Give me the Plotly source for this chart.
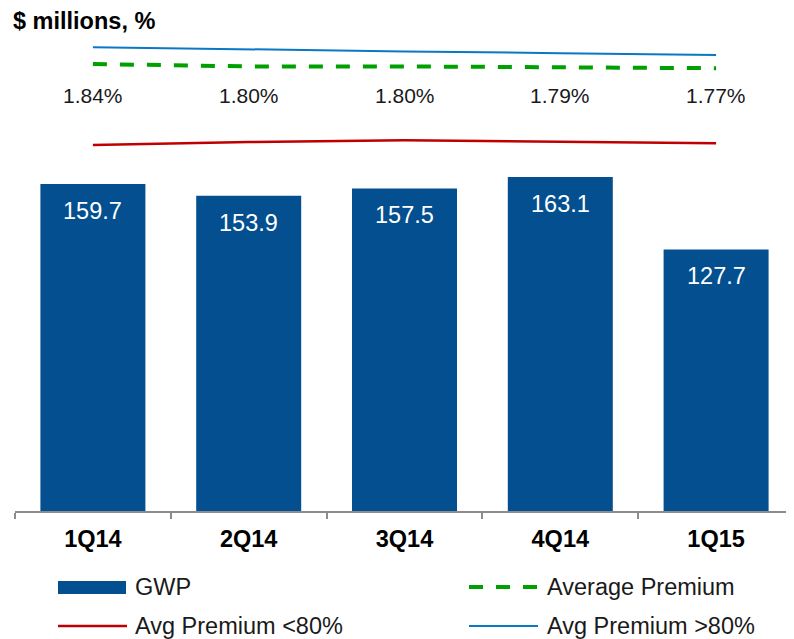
import plotly.graph_objects as go

quarters = ["1Q14", "2Q14", "3Q14", "4Q14", "1Q15"]
gwp = [159.7, 153.9, 157.5, 163.1, 127.7]
avg_premium = [1.84, 1.80, 1.80, 1.79, 1.77]
avg_premium_above80 = [2.12, 2.08, 2.05, 2.02, 1.99]
avg_premium_below80 = [0.49, 0.54, 0.57, 0.55, 0.52]

BAR = "#034F8F"
RED = "#C00000"
BLUE = "#0A78C5"
GREEN = "#00A000"
FONT = "Arial, Liberation Sans, sans-serif"

OFF = 8  # page body margin
W, H = 794 - OFF, 639 - OFF
AXIS_PX = 511  # axis y in screenshot pixels
L, R, T = 15 - OFF, 0, 40 - OFF
B = H - (AXIS_PX - OFF)
PW = W - L - R
PH = H - T - B


def px(x):
    """screenshot x -> paper"""
    return (x - 15) / PW


def py(y):
    """screenshot y -> paper"""
    return (AXIS_PX - y) / PH


fig = go.Figure()
fig.add_trace(go.Bar(x=quarters, y=gwp, marker=dict(color=BAR, line=dict(width=0)),
                     name="GWP", showlegend=False, hoverinfo="x+y"))
fig.add_trace(go.Scatter(x=quarters, y=avg_premium_above80, yaxis="y2", mode="lines",
                         line=dict(color=BLUE, width=2), name="Avg Premium >80%", showlegend=False))
fig.add_trace(go.Scatter(x=quarters, y=avg_premium, yaxis="y2", mode="lines",
                         line=dict(color=GREEN, width=4, dash="14px,13px"), name="Average Premium",
                         showlegend=False))
fig.add_trace(go.Scatter(x=quarters, y=avg_premium_below80, yaxis="y2", mode="lines",
                         line=dict(color=RED, width=2.5), name="Avg Premium <80%", showlegend=False))

annotations = []
for q, v in zip(quarters, gwp):
    annotations.append(dict(x=q, y=v, xref="x", yref="y", text=f"{v:.1f}", showarrow=False,
                            yanchor="middle", yshift=-27,
                            font=dict(family=FONT, size=23.5, color="white")))
for q, v in zip(quarters, avg_premium):
    annotations.append(dict(x=q, y=py(96), xref="x", yref="paper", text=f"{v:.2f}%",
                            showarrow=False, yanchor="middle",
                            font=dict(family=FONT, size=21, color="#1a1a1a")))
annotations.append(dict(x=px(11), y=py(21), xref="paper", yref="paper", text="<b>$ millions, %</b>",
                        showarrow=False, xanchor="left", yanchor="middle",
                        font=dict(family=FONT, size=23.5, color="black")))

shapes = []
row1, row2 = 587, 626
shapes.append(dict(type="rect", xref="paper", yref="paper", x0=px(58), x1=px(126),
                   y0=py(594), y1=py(581), fillcolor=BAR, line=dict(width=0)))
shapes.append(dict(type="line", xref="paper", yref="paper", x0=px(58), x1=px(127),
                   y0=py(row2), y1=py(row2), line=dict(color=RED, width=2.5)))
shapes.append(dict(type="line", xref="paper", yref="paper", x0=px(469), x1=px(538),
                   y0=py(row1), y1=py(row1), line=dict(color=GREEN, width=4, dash="14px,13px")))
shapes.append(dict(type="line", xref="paper", yref="paper", x0=px(469), x1=px(538),
                   y0=py(row2), y1=py(row2), line=dict(color=BLUE, width=2)))
legend_items = [("GWP", 133, row1), ("Avg Premium <80%", 133, row2),
                ("Average Premium", 545, row1), ("Avg Premium >80%", 545, row2)]
for text, x, y in legend_items:
    annotations.append(dict(x=px(x), y=py(y), xref="paper", yref="paper", text=text,
                            showarrow=False, xanchor="left", yanchor="middle",
                            font=dict(family=FONT, size=23.5, color="#1a1a1a")))

fig.update_layout(
    width=W, height=H,
    margin=dict(l=L, r=R, t=T, b=B, pad=0),
    paper_bgcolor="white", plot_bgcolor="white",
    bargap=0.326,
    showlegend=False,
    xaxis=dict(type="category", showline=True, linecolor="#8c8c8c", linewidth=1.5,
               ticks="outside", tickson="boundaries", ticklen=6, tickcolor="#8c8c8c",
               tickwidth=1.5, showgrid=False, ticklabelstandoff=6,
               tickfont=dict(family=FONT, size=23.5, color="black", weight="bold")),
    yaxis=dict(range=[0, PH / 2.048], visible=False, showgrid=False, zeroline=False),
    yaxis2=dict(range=[2.24 - PH / 60, 2.24], overlaying="y", side="right", visible=False,
                showgrid=False, zeroline=False),
    annotations=annotations,
    shapes=shapes,
)

fig.write_html("out.html")
